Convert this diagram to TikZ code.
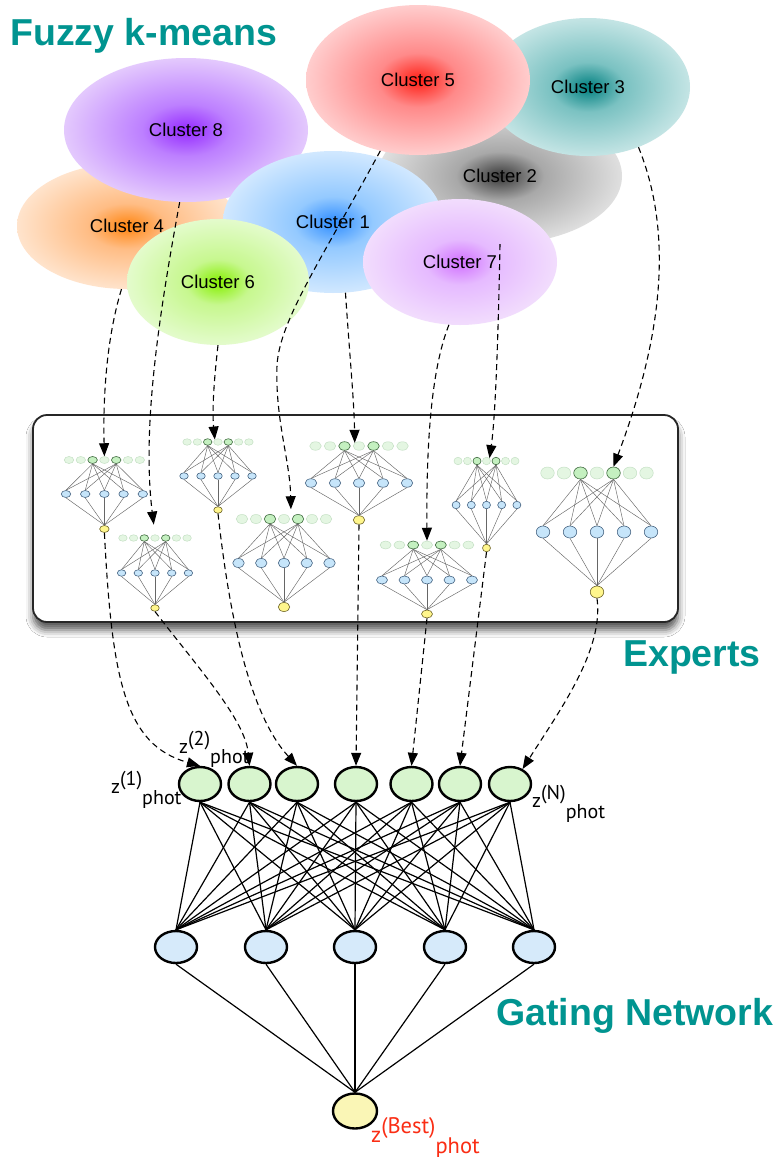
\documentclass[tikz,border=0pt]{standalone}
\usepackage{fontspec}
\setmainfont{Liberation Sans}
\newfontfamily\gillfont{PT Sans}
\usetikzlibrary{shapes.geometric,arrows.meta,shadows.blur,calc}

\definecolor{teal1}{RGB}{0,148,144}
\definecolor{zred}{RGB}{250,45,20}
\definecolor{tfill}{RGB}{228,246,226}
\definecolor{tdraw}{RGB}{196,224,196}
\definecolor{tafill}{RGB}{196,240,192}
\definecolor{tadraw}{RGB}{70,110,70}
\definecolor{hfill}{RGB}{198,229,250}
\definecolor{hdraw}{RGB}{70,100,130}
\definecolor{ofill}{RGB}{255,246,140}
\definecolor{odraw}{RGB}{110,100,40}
\definecolor{gfill}{RGB}{216,245,206}
\definecolor{ghfill}{RGB}{214,234,250}
\definecolor{gofill}{RGB}{250,246,182}

\pgfdeclareradialshading{shc8}{\pgfpoint{0bp}{0bp}}{rgb(0bp)=(0.58,0.16,1); rgb(9bp)=(0.74,0.5,1); rgb(29bp)=(0.93,0.86,0.99); rgb(50bp)=(0.93,0.86,0.99)}
\pgfdeclareradialshading{shc4}{\pgfpoint{0bp}{0bp}}{rgb(0bp)=(1,0.52,0.06); rgb(9bp)=(1,0.74,0.52); rgb(29bp)=(1,0.93,0.87); rgb(50bp)=(1,0.93,0.87)}
\pgfdeclareradialshading{shc6}{\pgfpoint{0bp}{0bp}}{rgb(0bp)=(0.52,0.94,0); rgb(9bp)=(0.78,0.97,0.56); rgb(29bp)=(0.92,0.99,0.86); rgb(50bp)=(0.92,0.99,0.86)}
\pgfdeclareradialshading{shc1}{\pgfpoint{0bp}{0bp}}{rgb(0bp)=(0.18,0.55,1); rgb(9bp)=(0.58,0.79,1); rgb(29bp)=(0.88,0.94,1); rgb(50bp)=(0.88,0.94,1)}
\pgfdeclareradialshading{shc5}{\pgfpoint{0bp}{0bp}}{rgb(0bp)=(1,0.12,0.08); rgb(9bp)=(1,0.54,0.54); rgb(29bp)=(1,0.87,0.87); rgb(50bp)=(1,0.87,0.87)}
\pgfdeclareradialshading{shc3}{\pgfpoint{0bp}{0bp}}{rgb(0bp)=(0,0.5,0.5); rgb(9bp)=(0.48,0.76,0.76); rgb(29bp)=(0.84,0.93,0.93); rgb(50bp)=(0.84,0.93,0.93)}
\pgfdeclareradialshading{shc2}{\pgfpoint{0bp}{0bp}}{rgb(0bp)=(0.22,0.22,0.22); rgb(9bp)=(0.66,0.66,0.66); rgb(29bp)=(0.93,0.93,0.93); rgb(50bp)=(0.93,0.93,0.93)}
\pgfdeclareradialshading{shc7}{\pgfpoint{0bp}{0bp}}{rgb(0bp)=(0.82,0.44,1); rgb(9bp)=(0.9,0.73,1); rgb(29bp)=(0.96,0.9,0.99); rgb(50bp)=(0.96,0.9,0.99)}

% small expert network: name, centre x, top spacing, top y, hidden spacing, hidden y, output y, node w, node h
\newcommand{\expnet}[9]{%
  \foreach \i in {1,...,7}{%
    \node[tfade, minimum width=#8pt, minimum height=#9pt] (#1t\i) at ({#2+(\i-4)*#3},#4) {};
  }
  \foreach \i in {3,5}{%
    \node[tact, minimum width=#8pt, minimum height=#9pt] (#1t\i) at ({#2+(\i-4)*#3},#4) {};
  }
  \foreach \j in {1,...,5}{%
    \node[hnode, minimum width=#8pt, minimum height=#9pt] (#1h\j) at ({#2+(\j-3)*#5},#6) {};
  }
  \node[onode, minimum width=#8pt, minimum height=#9pt] (#1o) at (#2,#7) {};
  \foreach \i in {3,5}{\foreach \j in {1,...,5}{\draw[nline] (#1t\i.south) -- (#1h\j.north);}}
  \foreach \j in {1,...,5}{\draw[nline] (#1h\j.south) -- (#1o.north);}
}

\begin{document}
\begin{tikzpicture}[x=1pt,y=-1pt,
  clus/.style={ellipse, inner sep=0pt, font=\fontsize{18.5}{22}\selectfont},
  titletext/.style={text=teal1, inner sep=0pt, font=\bfseries\fontsize{37.5}{40}\selectfont},
  tfade/.style={ellipse, inner sep=0pt, fill=tfill, draw=tdraw, line width=0.5pt},
  tact/.style={ellipse, inner sep=0pt, fill=tafill, draw=tadraw, line width=0.6pt},
  hnode/.style={ellipse, inner sep=0pt, fill=hfill, draw=hdraw, line width=0.6pt},
  onode/.style={ellipse, inner sep=0pt, fill=ofill, draw=odraw, line width=0.6pt},
  nline/.style={draw=black!60, line width=0.45pt},
  darr/.style={draw=black, line width=1.1pt, dash pattern=on 6pt off 4pt, -{Triangle[length=13pt,width=10pt]}},
  gtop/.style={ellipse, inner sep=0pt, draw=black, line width=2.4pt, fill=gfill, minimum width=42pt, minimum height=34pt},
  ghid/.style={ellipse, inner sep=0pt, draw=black, line width=2.4pt, fill=ghfill, minimum width=42pt, minimum height=32pt},
  gout/.style={ellipse, inner sep=0pt, draw=black, line width=2.4pt, fill=gofill, minimum width=44pt, minimum height=35pt},
  gline/.style={draw=black, line width=1.2pt},
  zlab/.style={inner sep=0pt, font=\gillfont\fontsize{20}{22}\selectfont}
]
\useasboundingbox[fill=white] (0,0) rectangle (778,1157);

% ---------------- clusters ----------------
\node[clus, shading=shc4, minimum width=220pt, minimum height=126pt] (c4) at (127,226) {Cluster 4};
\node[clus, shading=shc8, minimum width=244pt, minimum height=144pt] (c8) at (186,130) {Cluster 8};
\node[clus, shading=shc2, minimum width=244pt, minimum height=136pt] (c2) at (500,176) {Cluster 2};
\node[clus, shading=shc3, minimum width=204pt, minimum height=138pt] (c3) at (588,87) {Cluster 3};
\node[clus, shading=shc1, minimum width=220pt, minimum height=142pt] (c1) at (333,222) {Cluster 1};
\node[clus, shading=shc5, minimum width=224pt, minimum height=150pt] (c5) at (418,80) {Cluster 5};
\node[clus, shading=shc6, minimum width=182pt, minimum height=126pt] (c6) at (218,282) {Cluster 6};
\node[clus, shading=shc7, minimum width=194pt, minimum height=126pt] (c7) at (460,262) {Cluster 7};

\node[titletext, anchor=base west] (tfuzzy) at (10,45) {Fuzzy k-means};

% ---------------- experts box ----------------
\node[draw=black!85, line width=1.8pt, rounded corners=14pt, fill=white,
      minimum width=645pt, minimum height=207pt, inner sep=0pt,
      blur shadow={shadow xshift=0pt, shadow yshift=-8pt, shadow blur radius=7pt, shadow opacity=65}] (box) at (355.5,518.5) {};

\expnet{A}{104.4}{11.8}{460}{19.2}{494}{529}{9.5}{7}
\expnet{B}{155}{10.7}{538}{16.7}{573}{608}{8.5}{6.5}
\expnet{C}{218}{10.3}{442}{17}{476}{510}{8.5}{6.5}
\expnet{D}{284}{14}{519}{22.75}{563}{607}{11.5}{9}
\expnet{E}{359}{14.5}{446}{24}{483}{520}{11.5}{8.5}
\expnet{G}{427}{13.8}{545}{22.5}{580}{614}{11}{8}
\expnet{H}{486.5}{9.5}{461}{15.2}{505}{548}{8}{7.5}
\expnet{I}{597}{16.5}{473}{27}{532}{592}{13.5}{12}

\node[titletext, anchor=base west] (texperts) at (623,666) {Experts};

% ---------------- gating network ----------------
\foreach \n/\x in {1/200,2/249.5,3/297,4/356,5/411.5,6/460,7/510}{
  \node[gtop] (g\n) at (\x,784) {};
}
\foreach \n/\x in {1/176,2/266,3/355,4/445,5/534}{
  \node[ghid] (h\n) at (\x,947) {};
}
\node[gout] (gbest) at (355,1111) {};

\foreach \i in {1,...,7}{\foreach \j in {1,...,5}{\draw[gline] (g\i.south) -- (h\j.north);}}
\foreach \j in {1,...,5}{\draw[gline] (h\j.south) -- (gbest.north);}

\node[titletext, anchor=base west] (tgating) at (496,1025) {Gating Network};

\node[zlab, anchor=base west] (z1) at (111,793) {z\raisebox{8pt}{(1)}\raisebox{-11pt}{phot}};
\node[zlab, anchor=base west] (z2) at (179,753) {z\raisebox{8pt}{(2)}\raisebox{-10pt}{phot}};
\node[zlab, anchor=base west] (zN) at (532,807) {z\raisebox{8pt}{(N)}\raisebox{-11pt}{phot}};
\node[zlab, anchor=base west, text=zred, font=\gillfont\fontsize{22.5}{24}\selectfont] (zB) at (371,1142) {z\raisebox{9pt}{(Best)}\raisebox{-11pt}{phot}};

% ---------------- connectors: clusters -> experts ----------------
\draw[darr] (c4.265) .. controls (106,340) and (103,400) .. (At4.north);
\draw[darr, shorten >=10pt] (c8.265) .. controls (158,320) and (142,430) .. (Bt4.north);
\draw[darr] (c6.south) .. controls (214,380) and (212,410) .. (Ct4.north west);
\draw[darr, shorten >=5pt] (c5.242) .. controls (320,262) and (280,320) .. (277,365)
      .. controls (275,420) and (290,460) .. ($(Dt4.north)!0.5!(Dt5.north)$);
\draw[darr] (c1.280) .. controls (350,360) and (354,400) .. (Et4.north west);
\draw[darr] (c7.260) .. controls (435,360) and (426,420) .. (Gt4.north);
\draw[darr] (c2.south) .. controls (498,350) and (495,420) .. (Ht4.north east);
\draw[darr] (c3.310) .. controls (672,230) and (665,330) .. (It5.north);

% ---------------- connectors: experts -> gating ----------------
\draw[darr] (Ao.south) .. controls (112,680) and (125,745) .. (g1.north);
\draw[darr] (Bo.south) .. controls (200,670) and (245,720) .. (g2.north);
\draw[darr] (Co.south) .. controls (232,640) and (255,720) .. (g3.north);
\draw[darr] (Eo.south) -- (g4.north);
\draw[darr] (Go.south) -- (g5.north);
\draw[darr] (Ho.south) -- (g6.north);
\draw[darr] (Io.south) .. controls (604,650) and (560,710) .. (g7.50);
\end{tikzpicture}
\end{document}
